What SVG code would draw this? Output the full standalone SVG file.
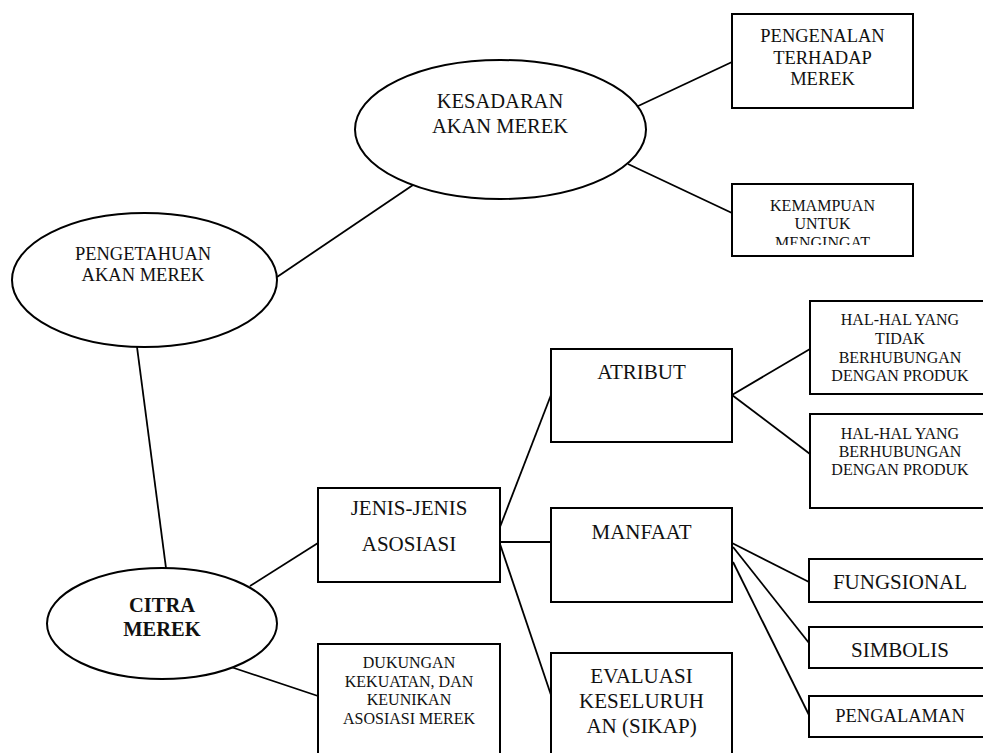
<svg xmlns="http://www.w3.org/2000/svg" width="983" height="753" viewBox="0 0 983 753" font-family="'Liberation Serif', 'DejaVu Serif', 'Times New Roman', Times, serif">
<style>
  .shape { fill: #fff; stroke: #000; stroke-width: 2; }
  .conn line { stroke: #000; stroke-width: 1.8; }
  text { font-family: "Liberation Serif", "DejaVu Serif", "Times New Roman", Times, serif; fill: #111; text-anchor: middle; }
  .big { font-size: 21px; }
  .mid { font-size: 18.5px; }
  .sm { font-size: 16px; }
  .bold { font-weight: bold; font-size: 20.5px; }
</style>
<defs>
  <clipPath id="clipKem"><rect x="733" y="185" width="179" height="60"/></clipPath>
</defs>
<rect width="983" height="753" fill="#fff"/>
<g id="connectors" class="conn">
  <line x1="636" y1="107" x2="732" y2="62"/>
  <line x1="628" y1="164" x2="732" y2="213"/>
  <line x1="277" y1="277" x2="413" y2="185"/>
  <line x1="137" y1="347" x2="166" y2="568"/>
  <line x1="250" y1="586" x2="318" y2="543"/>
  <line x1="231" y1="667" x2="318" y2="696"/>
  <line x1="500" y1="527" x2="551" y2="395"/>
  <line x1="500" y1="542" x2="551" y2="542"/>
  <line x1="500" y1="544" x2="551" y2="695"/>
  <line x1="732" y1="395" x2="810" y2="349"/>
  <line x1="732" y1="395" x2="810" y2="454"/>
  <line x1="732" y1="543" x2="809" y2="582"/>
  <line x1="733" y1="547" x2="809" y2="643"/>
  <line x1="733" y1="562" x2="809" y2="715"/>
</g>
<g id="kesadaran">
  <ellipse class="shape" cx="500.5" cy="129.5" rx="145.5" ry="69.5"/>
  <text x="500" y="108" font-size="20.5">KESADARAN</text>
  <text x="500" y="133" font-size="20.5">AKAN MEREK</text>
</g>
<g id="pengetahuan">
  <ellipse class="shape" cx="144.5" cy="280" rx="132.5" ry="67"/>
  <text class="mid" x="143" y="260">PENGETAHUAN</text>
  <text class="mid" x="143" y="281">AKAN MEREK</text>
</g>
<g id="citra">
  <ellipse class="shape" cx="162" cy="623.5" rx="115" ry="55.5"/>
  <text class="bold" x="162" y="612">CITRA</text>
  <text class="bold" x="162" y="636">MEREK</text>
</g>
<g id="pengenalan">
  <rect class="shape" x="732" y="14" width="181" height="94"/>
  <text class="mid" x="822.5" y="42">PENGENALAN</text>
  <text class="mid" x="822.5" y="64">TERHADAP</text>
  <text class="mid" x="822.5" y="85">MEREK</text>
</g>
<g id="kemampuan">
  <rect class="shape" x="732" y="184" width="181" height="72"/>
  <g clip-path="url(#clipKem)">
    <text class="sm" x="822.5" y="211">KEMAMPUAN</text>
    <text class="sm" x="822.5" y="229">UNTUK</text>
    <text class="sm" x="822.5" y="248">MENGINGAT</text>
  </g>
</g>
<g id="jenis">
  <rect class="shape" x="318" y="488" width="182" height="94"/>
  <text class="big" x="409" y="515">JENIS-JENIS</text>
  <text class="big" x="409" y="551">ASOSIASI</text>
</g>
<g id="dukungan">
  <rect class="shape" x="318" y="644" width="182" height="120"/>
  <text class="sm" x="409" y="668">DUKUNGAN</text>
  <text class="sm" x="409" y="687">KEKUATAN, DAN</text>
  <text class="sm" x="409" y="705">KEUNIKAN</text>
  <text class="sm" x="409" y="724">ASOSIASI MEREK</text>
</g>
<g id="atribut">
  <rect class="shape" x="551" y="349" width="181" height="93"/>
  <text class="big" x="641.5" y="379">ATRIBUT</text>
</g>
<g id="manfaat">
  <rect class="shape" x="551" y="508" width="181" height="94"/>
  <text class="big" x="641.5" y="539">MANFAAT</text>
</g>
<g id="evaluasi">
  <rect class="shape" x="551" y="653" width="181" height="110"/>
  <text class="big" x="641.5" y="683">EVALUASI</text>
  <text class="big" x="641.5" y="708">KESELURUH</text>
  <text class="big" x="641.5" y="733">AN (SIKAP)</text>
</g>
<g id="hal-tidak">
  <rect class="shape" x="810" y="301" width="182" height="93"/>
  <text class="sm" x="900" y="325">HAL-HAL YANG</text>
  <text class="sm" x="900" y="344">TIDAK</text>
  <text class="sm" x="900" y="363">BERHUBUNGAN</text>
  <text class="sm" x="900" y="381">DENGAN PRODUK</text>
</g>
<g id="hal-ber">
  <rect class="shape" x="810" y="414" width="182" height="94"/>
  <text class="sm" x="900" y="439">HAL-HAL YANG</text>
  <text class="sm" x="900" y="457">BERHUBUNGAN</text>
  <text class="sm" x="900" y="475">DENGAN PRODUK</text>
</g>
<g id="fungsional">
  <rect class="shape" x="809" y="559" width="183" height="43"/>
  <text class="big" x="900" y="589">FUNGSIONAL</text>
</g>
<g id="simbolis">
  <rect class="shape" x="809" y="627" width="183" height="41"/>
  <text class="big" x="900" y="657">SIMBOLIS</text>
</g>
<g id="pengalaman">
  <rect class="shape" x="809" y="696" width="183" height="41"/>
  <text class="mid" x="900" y="722">PENGALAMAN</text>
</g>
</svg>
